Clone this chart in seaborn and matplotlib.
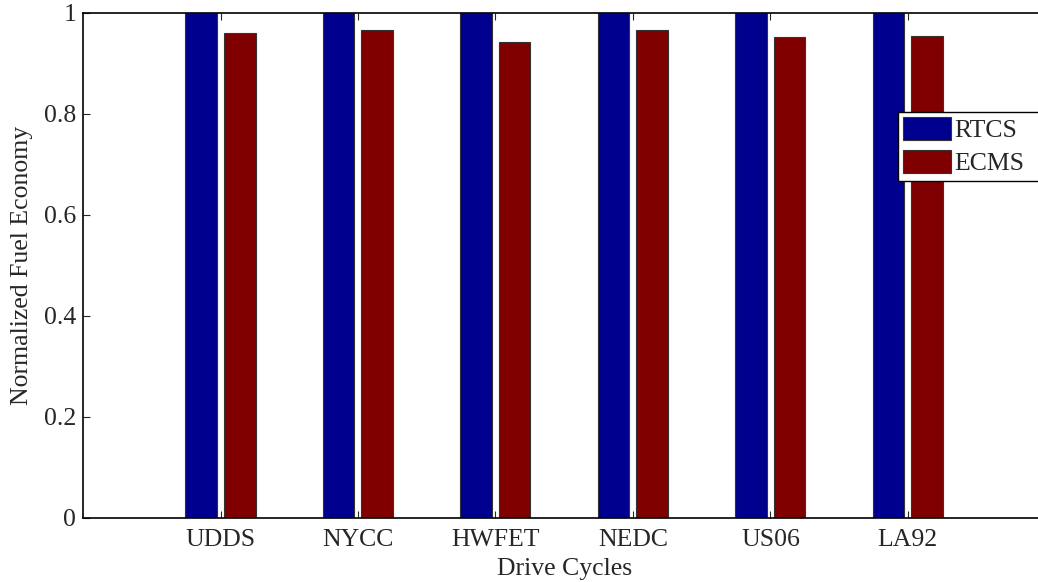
import pandas as pd
import numpy as np
import matplotlib.pyplot as plt
import seaborn as sns

# données
cycles = ["UDDS", "NYCC", "HWFET", "NEDC", "US06", "LA92"]
rtcs = [1.0, 1.0, 1.0, 1.0, 1.0, 1.0]
ecms = [0.961, 0.966, 0.942, 0.966, 0.952, 0.955]
methods = ["RTCS", "ECMS"]
yticks = [0, 0.2, 0.4, 0.6, 0.8, 1]
ytick_labels = ["0", "0.2", "0.4", "0.6", "0.8", "1"]

df = pd.DataFrame({
    "cycle": cycles * 2,
    "value": rtcs + ecms,
    "method": [methods[0]] * len(cycles) + [methods[1]] * len(cycles),
})

sns.set_style("ticks")
plt.rcParams["font.family"] = ["Liberation Serif", "DejaVu Serif"]
plt.rcParams["font.size"] = 18.5

fig = plt.figure(figsize=(10.38, 5.82), dpi=100)
ax = fig.add_axes([0.080, 0.110, 0.927, 0.8677])

sns.barplot(data=df, x="cycle", y="value", hue="method", order=cycles,
            hue_order=methods, palette=["#00008F", "#800000"], saturation=1,
            width=0.56, gap=0.18, edgecolor="#333333", linewidth=0.8,
            errorbar=None, ax=ax)

ax.set_xlim(-1, 6)
ax.set_ylim(0, 1)
ax.set_yticks(yticks)
ax.set_yticklabels(ytick_labels)
ax.set_xlabel("Drive Cycles", labelpad=5)
ax.set_ylabel("Normalized Fuel Economy", labelpad=8)

for s in ax.spines.values():
    s.set_color("black")
    s.set_linewidth(1.2)
ax.spines["right"].set_visible(False)

ax.tick_params(axis="both", direction="in", length=5, width=0.8,
               top=True, right=False, labelsize=18.5)
ax.tick_params(axis="x", pad=8)
ax.tick_params(axis="y", pad=5)

# légende collée à droite, coupée par le bord de la figure
leg = ax.legend(loc="upper left",
                bbox_to_anchor=(898 / 1038, 1 - 184 / 582, 0.2, 72 / 582),
                bbox_transform=fig.transFigure, mode="expand", fontsize=18.5,
                frameon=True, fancybox=False, framealpha=1,
                edgecolor="black", borderpad=0.2, borderaxespad=0,
                handlelength=1.85, handleheight=1.0, handletextpad=0.15,
                labelspacing=0.3)
leg.get_frame().set_linewidth(1.0)

fig.savefig("out.png", dpi=100)
